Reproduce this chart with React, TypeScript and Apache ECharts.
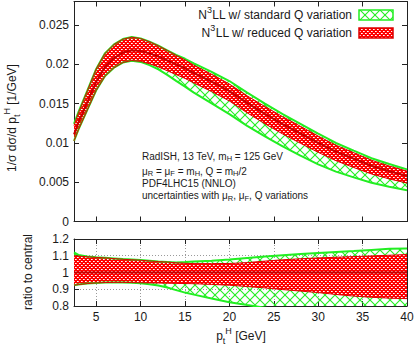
import React, { useEffect, useRef } from "react";
import * as echarts from "echarts";

// p_t^H grid (GeV)
const ptH = [2.5, 3, 4, 5, 6, 7, 8, 9, 10, 11, 12, 13, 14, 15, 16, 18, 20, 22, 24, 26, 28, 30, 32, 34, 36, 38, 40];
// central prediction 1/sigma dsigma/dpt (1/GeV)
const central = [0.0111, 0.0126, 0.0152, 0.0178, 0.0197, 0.0208, 0.0215, 0.0218, 0.0217, 0.0214, 0.021, 0.0205, 0.02, 0.0195, 0.0189, 0.0178, 0.0166, 0.0151, 0.0137, 0.0124, 0.0112, 0.01, 0.0089, 0.008, 0.0071, 0.0064, 0.0058];
// ratio to central: reduced Q variation (red)
const redUpper = [1.1, 1.098, 1.094, 1.09, 1.087, 1.083, 1.079, 1.076, 1.073, 1.069, 1.065, 1.062, 1.058, 1.055, 1.053, 1.053, 1.054, 1.059, 1.068, 1.076, 1.082, 1.087, 1.091, 1.095, 1.099, 1.103, 1.107];
const redLower = [0.924, 0.928, 0.934, 0.938, 0.94, 0.941, 0.941, 0.94, 0.939, 0.938, 0.937, 0.936, 0.935, 0.934, 0.933, 0.929, 0.924, 0.916, 0.908, 0.898, 0.889, 0.88, 0.869, 0.859, 0.852, 0.847, 0.844];
// ratio to central: standard Q variation (green)
const greenUpper = [1.12, 1.105, 1.095, 1.091, 1.088, 1.084, 1.08, 1.077, 1.074, 1.07, 1.066, 1.063, 1.06, 1.062, 1.065, 1.07, 1.077, 1.086, 1.095, 1.103, 1.11, 1.117, 1.123, 1.128, 1.135, 1.142, 1.143];
const greenLower = [0.924, 0.928, 0.934, 0.938, 0.94, 0.941, 0.941, 0.939, 0.936, 0.93, 0.922, 0.91, 0.895, 0.88, 0.868, 0.845, 0.823, 0.806, 0.79, 0.772, 0.748, 0.728, 0.713, 0.702, 0.695, 0.69, 0.688];

const xTicks = [5, 10, 15, 20, 25, 30, 35, 40];
const yTicksTop = [0, 0.005, 0.01, 0.015, 0.02, 0.025];
const yTicksRatio = [0.8, 0.9, 1, 1.1, 1.2];

const legendLabels = ["N{sup|3}LL w/ standard Q variation", "N{sup|3}LL w/ reduced Q variation"];
const infoLines = [
  "RadISH, 13 TeV, m{sub|H} = 125 GeV",
  "μ{sub|R} = μ{sub|F} = m{sub|H}, Q = m{sub|H}/2",
  "PDF4LHC15 (NNLO)",
  "uncertainties with μ{sub|R}, μ{sub|F}, Q variations",
];

const FONT = "'Liberation Sans', Arial, Helvetica, sans-serif";
const GREEN = "#22ee22";
const RED = "#ff0000";
const RED_EDGE = "#dd0000";
const RED_CENTRAL = "#c80000";
const AXIS = "#222";
const TEXT = "#1a1a1a";

function greenPattern(): string {
  const c = document.createElement("canvas");
  c.width = 10;
  c.height = 10;
  const ctx = c.getContext("2d")!;
  ctx.strokeStyle = GREEN;
  ctx.lineWidth = 1.1;
  for (const k of [-10, 0, 10]) {
    ctx.beginPath();
    ctx.moveTo(k, 0);
    ctx.lineTo(k + 10, 10);
    ctx.stroke();
    ctx.beginPath();
    ctx.moveTo(k + 10, 0);
    ctx.lineTo(k, 10);
    ctx.stroke();
  }
  return c.toDataURL();
}

function redPattern(): string {
  const c = document.createElement("canvas");
  c.width = 4;
  c.height = 4;
  const ctx = c.getContext("2d")!;
  ctx.fillStyle = RED;
  ctx.fillRect(0, 0, 4, 4);
  ctx.fillStyle = "#ffb4b4";
  ctx.fillRect(2, 1, 1, 1);
  ctx.fillRect(0, 3, 1, 1);
  ctx.fillStyle = "#ffffff";
  ctx.fillRect(1, 1, 1, 1);
  ctx.fillRect(3, 3, 1, 1);
  return c.toDataURL();
}

const pairs = (ys: number[]) => ptH.map((x, i) => [x, ys[i]]);

export default function App() {
  const ref = useRef<HTMLDivElement>(null);

  useEffect(() => {
    if (!ref.current) return;
    const chart = echarts.init(ref.current, null, { renderer: "svg" });
    const gPat = { image: greenPattern(), repeat: "repeat", imageWidth: 10, imageHeight: 10 };
    const rPat = { image: redPattern(), repeat: "repeat", imageWidth: 4, imageHeight: 4 };

    const topGLo = central.map((c, i) => c * greenLower[i]);
    const topGHi = central.map((c, i) => c * greenUpper[i]);
    const topRLo = central.map((c, i) => c * redLower[i]);
    const topRHi = central.map((c, i) => c * redUpper[i]);
    const ones = ptH.map(() => 1);

    const line = (xi: number, yi: number, ys: number[], color: string, width: number) => ({
      type: "line",
      xAxisIndex: xi,
      yAxisIndex: yi,
      symbol: "none",
      showSymbol: false,
      smooth: false,
      silent: true,
      clip: true,
      data: pairs(ys),
      lineStyle: { color, width },
    });

    const band = (xi: number, yi: number, lo: number[], hi: number[], fill: any) => ({
      type: "custom",
      xAxisIndex: xi,
      yAxisIndex: yi,
      silent: true,
      clip: true,
      data: ptH.map((x, i) => [x, lo[i], hi[i]]),
      encode: { x: 0, y: [1, 2] },
      renderItem: (params: any, api: any) => {
        if (params.dataIndex !== 0) return null;
        const pts: number[][] = [];
        for (let i = 0; i < ptH.length; i++) pts.push(api.coord([ptH[i], hi[i]]));
        for (let i = ptH.length - 1; i >= 0; i--) pts.push(api.coord([ptH[i], lo[i]]));
        const cs = params.coordSys;
        return {
          type: "group",
          clipPath: { type: "rect", shape: { x: cs.x, y: cs.y, width: cs.width, height: cs.height } },
          children: [{ type: "polygon", shape: { points: pts }, style: { fill, stroke: null } }],
        };
      },
    });

    const axisLine = { show: true, onZero: false, lineStyle: { color: AXIS, width: 1 } };
    const tick = (vals: number[]) => ({ show: true, inside: true, length: 5, customValues: vals, lineStyle: { color: AXIS, width: 1 } });
    const labelStyle = { fontFamily: FONT, fontSize: 12, color: TEXT };
    const dotted = { show: true, lineStyle: { color: "#9a9a9a", width: 1, type: [1, 2] } };

    const xBase = (grid: number, pos: string) => ({
      type: "value", gridIndex: grid, min: 2.5, max: 40, position: pos,
      axisLine, axisTick: tick(xTicks), axisLabel: { show: false }, splitLine: { show: false },
    });
    const yBase = (grid: number, pos: string, min: number, max: number, ticks: number[]) => ({
      type: "value", gridIndex: grid, min, max, position: pos,
      axisLine, axisTick: tick(ticks), axisLabel: { show: false }, splitLine: { show: false },
    });

    const subRich = {
      sub: { fontFamily: FONT, fontSize: 7.5, height: 10, lineHeight: 15, verticalAlign: "bottom", fill: TEXT },
      sup: { fontFamily: FONT, fontSize: 7.5, height: 9, lineHeight: 15, verticalAlign: "top", fill: TEXT },
    };
    const rich12 = {
      sub: { fontFamily: FONT, fontSize: 9, height: 9, lineHeight: 18, verticalAlign: "bottom", fill: TEXT },
      sup: { fontFamily: FONT, fontSize: 9, height: 8, lineHeight: 18, verticalAlign: "top", fill: TEXT },
    };
    const txt = (text: string, x: number, y: number, align: string, opts: any = {}) => ({
      type: "text",
      x, y,
      rotation: opts.rotation || 0,
      silent: true,
      z: 100,
      style: {
        text,
        fontFamily: FONT,
        fontSize: opts.fontSize || 12,
        lineHeight: opts.lineHeight || 18,
        fill: TEXT,
        align, textAlign: align,
        verticalAlign: "middle", textVerticalAlign: "middle",
        rich: opts.rich || rich12,
      },
    });

    const infoY = [156, 171, 183.5, 195.5];

    const option: any = {
      animation: false,
      backgroundColor: "#ffffff",
      grid: [
        { left: 74, top: 1.5, width: 333, height: 220, containLabel: false, outerBoundsMode: "none" },
        { left: 74, top: 239, width: 333, height: 67, containLabel: false, outerBoundsMode: "none" },
      ],
      xAxis: [
        xBase(0, "bottom"),
        xBase(0, "top"),
        { ...xBase(1, "bottom"), axisLabel: { show: true, customValues: xTicks, margin: 5, ...labelStyle }, splitLine: dotted },
        xBase(1, "top"),
      ],
      yAxis: [
        { ...yBase(0, "left", 0, 0.028, yTicksTop), axisLabel: { show: true, customValues: yTicksTop, margin: 5, ...labelStyle } },
        yBase(0, "right", 0, 0.028, yTicksTop),
        { ...yBase(1, "left", 0.8, 1.2, yTicksRatio), axisLabel: { show: true, customValues: yTicksRatio, margin: 5, ...labelStyle }, splitLine: dotted },
        yBase(1, "right", 0.8, 1.2, yTicksRatio),
      ],
      series: [
        band(0, 0, topGLo, topGHi, gPat),
        line(0, 0, topGLo, GREEN, 2),
        line(0, 0, topGHi, GREEN, 2),
        band(0, 0, topRLo, topRHi, rPat),
        line(0, 0, topRLo, RED_EDGE, 1),
        line(0, 0, topRHi, RED_EDGE, 1),
        line(0, 0, central, RED_CENTRAL, 2),
        band(2, 2, greenLower, greenUpper, gPat),
        line(2, 2, greenLower, GREEN, 2),
        line(2, 2, greenUpper, GREEN, 2),
        band(2, 2, redLower, redUpper, rPat),
        line(2, 2, redLower, RED_EDGE, 1),
        line(2, 2, redUpper, RED_EDGE, 1),
        line(2, 2, ones, RED_CENTRAL, 2),
      ],
      graphic: [
        txt(legendLabels[0], 352, 15, "right"),
        txt(legendLabels[1], 352, 33, "right"),
        { type: "rect", silent: true, z: 100, shape: { x: 359, y: 10, width: 34, height: 10 }, style: { fill: gPat, stroke: GREEN, lineWidth: 1.5 } },
        { type: "rect", silent: true, z: 100, shape: { x: 359, y: 28, width: 34, height: 10 }, style: { fill: rPat, stroke: RED_EDGE, lineWidth: 1.5 } },
        ...infoLines.map((l, i) => txt(l, 142, infoY[i], "left", { fontSize: 10, lineHeight: 15, rich: subRich })),
        txt("1/σ dσ/d p{sub|t}{sup|H} [1/GeV]", 12, 118, "center", { rotation: Math.PI / 2 }),
        txt("ratio to central", 27.5, 272, "center", { rotation: Math.PI / 2 }),
        txt("p{sub|t}{sup|H} [GeV]", 241, 336, "center"),
      ],
    };

    chart.setOption(option);
    return () => chart.dispose();
  }, []);

  return <div ref={ref} style={{ position: "fixed", left: 0, top: 0, width: 415, height: 345 }} />;
}
